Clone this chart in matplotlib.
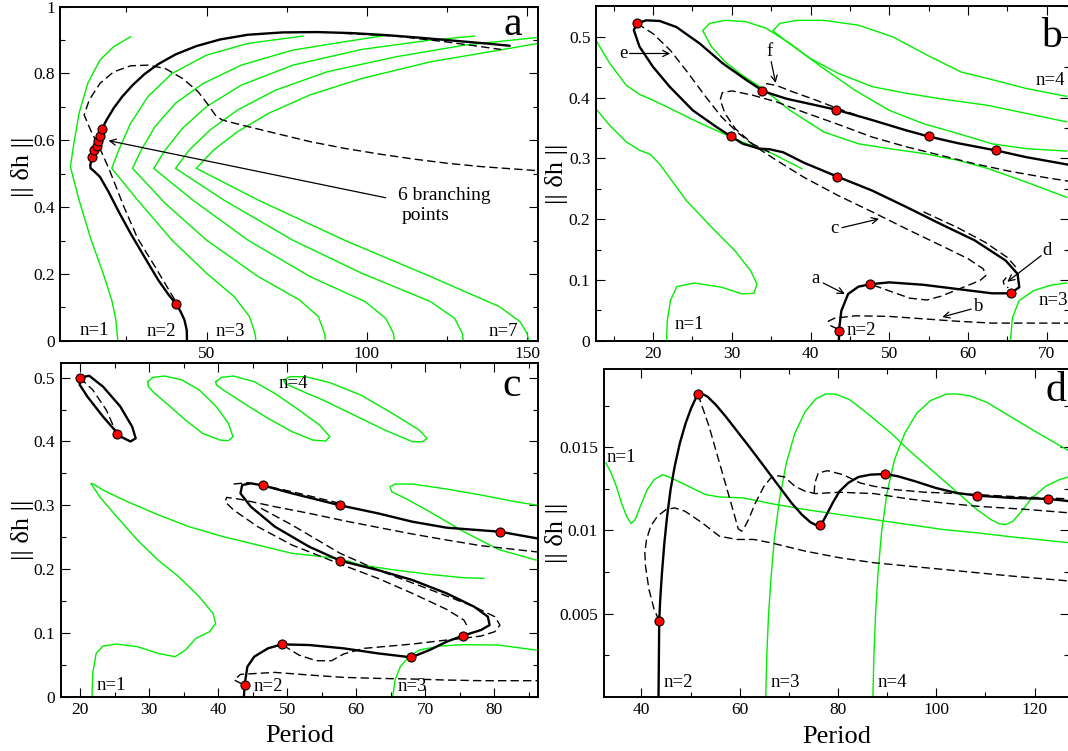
import matplotlib
matplotlib.use('Agg')
import matplotlib.pyplot as plt
from matplotlib.ticker import MultipleLocator, FixedLocator, FuncFormatter

plt.rcParams['font.family'] = ['Liberation Serif', 'DejaVu Serif']

GREEN = '#00ee00'

# ---------------- Panel a data ----------------
a_n1_x = [26.3, 21.0, 16.7, 12.9, 10.2, 8.6, 7.5, 10.2, 14.0, 17.7, 20.4, 21.7, 22.3]
a_n1_y = [0.910, 0.880, 0.840, 0.770, 0.681, 0.591, 0.521, 0.421, 0.301, 0.202, 0.122, 0.062, 0.0]
a_n3_x = [80.1, 62.9, 50.0, 39.2, 31.7, 26.3, 22.6, 20.4, 28.5, 39.2, 50.0, 58.6, 63.4, 65.1, 65.4]
a_n3_y = [0.912, 0.890, 0.855, 0.800, 0.731, 0.651, 0.571, 0.516, 0.421, 0.301, 0.202, 0.132, 0.072, 0.022, 0.0]
a_n4_x = [105.9, 93.0, 76.9, 60.8, 48.9, 40.3, 33.9, 29.6, 26.9, 37.1, 50.0, 66.1, 79.0, 84.9, 86.8, 87.1]
a_n4_y = [0.914, 0.895, 0.870, 0.825, 0.770, 0.711, 0.641, 0.571, 0.516, 0.411, 0.301, 0.192, 0.122, 0.072, 0.022, 0.0]
a_n5_x = [133.7, 119.9, 98.4, 76.9, 60.8, 50.0, 42.5, 37.1, 33.5, 45.7, 62.9, 82.3, 99.5, 105.9, 108.3, 108.6]
a_n5_y = [0.912, 0.900, 0.872, 0.825, 0.765, 0.701, 0.636, 0.571, 0.516, 0.421, 0.301, 0.192, 0.117, 0.067, 0.022, 0.0]
a_n6_x = [153.4, 130.6, 109.1, 87.6, 71.5, 59.7, 51.1, 44.6, 40.3, 55.4, 76.9, 98.4, 119.9, 127.4, 129.8, 130.1]
a_n6_y = [0.908, 0.885, 0.850, 0.805, 0.750, 0.691, 0.631, 0.571, 0.516, 0.421, 0.301, 0.202, 0.117, 0.067, 0.022, 0.0]
a_n7_x = [153.4, 141.4, 119.9, 98.4, 82.3, 69.4, 59.7, 52.2, 46.8, 66.1, 93.0, 119.9, 141.4, 147.8, 150.0, 150.5]
a_n7_y = [0.890, 0.870, 0.835, 0.785, 0.736, 0.681, 0.626, 0.571, 0.516, 0.421, 0.301, 0.192, 0.102, 0.057, 0.022, 0.0]
a_bk_x = [43.9, 43.8, 43.1, 41.9, 40.6, 38.2, 34.9, 30.6, 26.3, 22.6, 19.4, 16.7, 14.5, 13.8, 13.7,
          14.4, 15.0, 15.8, 16.2, 16.6, 17.3, 18.8, 21.0, 23.7, 26.9, 30.6, 34.9, 40.3, 46.8, 54.3,
          62.9, 73.7, 84.4, 95.2, 105.9, 116.7, 127.4, 138.2, 144.6]
a_bk_y = [0.0, 0.032, 0.062, 0.087, 0.109, 0.137, 0.182, 0.251, 0.321, 0.386, 0.446, 0.491, 0.511, 0.516, 0.526,
          0.551, 0.570, 0.584, 0.597, 0.613, 0.633, 0.661, 0.696, 0.731, 0.765, 0.798, 0.828, 0.857, 0.882, 0.902,
          0.916, 0.923, 0.924, 0.921, 0.915, 0.907, 0.898, 0.889, 0.883]
a_ds_x = [40.1, 33.9, 28.5, 24.2, 19.7, 16.7, 14.0, 11.8, 13.4, 16.7, 21.0, 26.3, 31.7, 37.1, 42.5, 47.3,
          50.5, 52.7, 54.8, 60.8, 71.5, 82.3, 93.0, 103.8, 114.5, 125.3, 136.0, 153.4]
a_ds_y = [0.122, 0.222, 0.306, 0.401, 0.511, 0.576, 0.626, 0.676, 0.721, 0.770, 0.805, 0.823, 0.825, 0.815, 0.785, 0.746,
          0.706, 0.676, 0.661, 0.646, 0.621, 0.596, 0.576, 0.559, 0.544, 0.531, 0.521, 0.509]
a_ds2_x = [93.0, 109.1, 125.3, 141.9]
a_ds2_y = [0.920, 0.912, 0.894, 0.872]
a_dot_x = [14.4, 15.0, 15.8, 16.2, 16.6, 17.3, 40.6]
a_dot_y = [0.551, 0.570, 0.584, 0.597, 0.613, 0.633, 0.109]

# ---------------- Panel b data ----------------
b_n1_x = [12.7, 14.5, 16.6, 18.3, 19.6, 20.8, 24.2, 27.4, 30.4, 32.4, 33.2, 32.8, 31.3, 28.7, 25.2, 23.0, 22.2, 21.8, 21.7]
b_n1_y = [0.382, 0.354, 0.327, 0.313, 0.307, 0.291, 0.231, 0.187, 0.148, 0.115, 0.093, 0.078, 0.077, 0.088, 0.095, 0.089, 0.066, 0.033, 0.0]
b_g2_x = [12.7, 14.5, 16.6, 18.3, 19.6, 21.7, 26.1, 31.3, 34.8, 38.9]
b_g2_y = [0.495, 0.456, 0.420, 0.405, 0.398, 0.385, 0.357, 0.327, 0.310, 0.283]
b_l1_x = [72.52, 67.39, 63.04, 58.70, 54.35, 50.0, 45.65, 41.30, 37.39, 34.35, 31.74, 29.13, 27.17, 26.30,
          27.39, 29.13, 31.30, 33.91, 37.39, 41.74, 46.09, 50.0, 54.35, 58.70, 62.61, 67.39, 72.52]
b_l1_y = [0.312, 0.316, 0.324, 0.341, 0.357, 0.379, 0.412, 0.451, 0.489, 0.514, 0.525, 0.527, 0.522, 0.510,
          0.484, 0.459, 0.437, 0.415, 0.379, 0.343, 0.324, 0.316, 0.308, 0.297, 0.283, 0.261, 0.236]
b_l2_x = [72.52, 67.39, 62.61, 59.13, 54.78, 50.43, 46.09, 41.74, 38.26, 36.09, 35.22,
          36.96, 40.0, 43.48, 47.83, 52.17, 56.52, 62.61, 67.39, 72.52]
b_l2_y = [0.402, 0.415, 0.431, 0.442, 0.470, 0.500, 0.519, 0.527, 0.527, 0.522, 0.510,
          0.492, 0.464, 0.440, 0.418, 0.407, 0.398, 0.387, 0.374, 0.360]
b_n3_x = [65.4, 65.65, 66.5, 68.3, 70.4, 72.5]
b_n3_y = [0.0, 0.038, 0.066, 0.082, 0.091, 0.095]
b_bk_x = [43.61, 43.61, 43.91, 44.78, 46.09, 47.61, 50.0, 54.35, 58.70, 63.04, 65.43, 66.52, 66.30, 64.78,
          60.87, 56.52, 52.17, 47.83, 43.39, 39.13, 36.52, 34.78, 33.48, 31.39, 29.91, 28.0, 25.04, 22.09,
          19.96, 18.26, 17.55, 17.96, 19.13, 20.83, 22.96, 25.91, 28.87, 31.83, 33.48, 33.83, 36.96, 43.26,
          47.83, 52.17, 55.0, 58.70, 63.57, 67.39, 73.0]
b_bk_y = [0.0, 0.0165, 0.049, 0.077, 0.089, 0.093, 0.096, 0.092, 0.085, 0.078, 0.078, 0.088, 0.110, 0.132,
          0.165, 0.192, 0.220, 0.247, 0.270, 0.293, 0.310, 0.315, 0.316, 0.324, 0.336, 0.352, 0.379, 0.418,
          0.451, 0.484, 0.511, 0.522, 0.527, 0.526, 0.516, 0.489, 0.456, 0.429, 0.415, 0.411, 0.398, 0.380,
          0.363, 0.346, 0.336, 0.325, 0.313, 0.302, 0.289]
b_dc_x = [17.96, 20.0, 22.17, 24.35, 26.52, 28.70, 30.87, 33.04, 35.65, 39.13, 43.48, 47.83, 52.17, 56.52,
          60.0, 61.96, 62.26, 61.52, 60.0, 58.26, 56.52, 54.78, 52.61, 50.43, 48.70, 47.61]
b_dc_y = [0.522, 0.505, 0.478, 0.442, 0.404, 0.368, 0.341, 0.319, 0.297, 0.269, 0.239, 0.212, 0.184, 0.157,
          0.135, 0.118, 0.107, 0.099, 0.091, 0.082, 0.073, 0.067, 0.070, 0.080, 0.088, 0.093]
b_d2_x = [34.78, 32.61, 30.43, 29.13, 28.52, 28.78, 30.0, 32.61, 35.65, 39.13, 43.48, 47.83, 52.17, 56.52,
          60.87, 65.22, 69.57, 73.0]
b_d2_y = [0.310, 0.324, 0.349, 0.374, 0.396, 0.408, 0.411, 0.404, 0.393, 0.376, 0.356, 0.335, 0.319, 0.305,
          0.291, 0.279, 0.269, 0.262]
b_df_x = [34.35, 35.65, 37.83, 40.43, 43.26, 46.09]
b_df_y = [0.423, 0.420, 0.409, 0.397, 0.383, 0.370]
b_dd_x = [54.35, 58.70, 62.17, 65.0, 66.09]
b_dd_y = [0.212, 0.186, 0.162, 0.137, 0.121]
b_dd2_x = [64.87, 64.48, 64.61, 65.13]
b_dd2_y = [0.104, 0.098, 0.091, 0.087]
b_db_x = [43.48, 42.52, 42.26, 43.04, 45.65, 50.0, 54.35, 58.70, 63.04, 67.39, 73.0]
b_db_y = [0.019, 0.025, 0.032, 0.037, 0.041, 0.040, 0.036, 0.032, 0.029, 0.029, 0.029]
b_dot_x = [17.96, 33.83, 43.26, 55.0, 63.57, 29.91, 43.39, 47.61, 65.43, 43.61]
b_dot_y = [0.522, 0.411, 0.380, 0.336, 0.313, 0.336, 0.270, 0.093, 0.078, 0.0165]

# ---------------- Panel c data ----------------
c_el_x = [19.95, 21.34, 23.33, 25.82, 27.56, 28.06, 27.31, 25.82, 23.33, 21.09, 19.95, 19.95]
c_el_y = [0.500, 0.503, 0.486, 0.455, 0.423, 0.405, 0.400, 0.408, 0.439, 0.470, 0.489, 0.500]
c_eld_x = [19.95, 21.84, 23.83, 25.32]
c_eld_y = [0.500, 0.481, 0.449, 0.412]
c_lA_x = [29.80, 30.55, 32.29, 34.78, 37.26, 39.75, 41.49, 42.14, 41.49, 40.25, 37.76, 35.27, 32.79, 30.80, 29.90, 29.80]
c_lA_y = [0.4937, 0.5005, 0.5026, 0.4963, 0.4807, 0.4545, 0.4284, 0.4075, 0.4013, 0.4023, 0.4127, 0.4336, 0.4572, 0.4754, 0.4859, 0.4937]
c_lB_x = [39.65, 40.50, 42.24, 45.22, 48.21, 51.69, 54.68, 56.17, 55.57, 53.68, 50.70, 47.21, 43.73, 40.75, 39.75, 39.65]
c_lB_y = [0.4937, 0.5005, 0.5026, 0.4937, 0.4754, 0.4493, 0.4258, 0.4075, 0.4007, 0.4023, 0.4154, 0.4363, 0.4598, 0.4807, 0.4885, 0.4937]
c_lC_x = [49.45, 50.45, 52.69, 56.17, 60.65, 65.62, 69.10, 70.25, 69.60, 68.11, 64.13, 59.65, 55.17, 51.19, 49.70, 49.45]
c_lC_y = [0.4963, 0.5016, 0.5016, 0.4922, 0.4728, 0.4415, 0.4180, 0.4049, 0.3997, 0.3997, 0.4180, 0.4415, 0.4650, 0.4833, 0.4911, 0.4963]
c_n1_x = [21.74, 21.84, 22.34, 23.33, 25.32, 28.31, 31.29, 33.78, 35.27, 36.77, 38.76, 39.65, 39.25, 37.26, 34.28,
          31.29, 28.31, 25.32, 22.84, 21.59, 21.94, 23.33, 26.32, 30.80, 35.77, 40.75, 45.72, 50.70, 57.66,
          60.65, 65.62, 70.60, 75.57, 78.46]
c_n1_y = [0.0, 0.0366, 0.0679, 0.0794, 0.0825, 0.0784, 0.0679, 0.0627, 0.0731, 0.0914, 0.1019, 0.1149, 0.1306, 0.1567, 0.1881,
          0.2142, 0.2456, 0.2821, 0.3135, 0.3344, 0.3333, 0.3239, 0.3083, 0.2874, 0.2665, 0.2508, 0.2377, 0.2247, 0.2163,
          0.2064, 0.1985, 0.1917, 0.1865, 0.1855]
c_n3_x = [65.27, 65.62, 66.37, 67.61, 69.10, 72.09, 75.57, 80.55, 86.02]
c_n3_y = [0.0, 0.0261, 0.047, 0.0627, 0.0731, 0.0794, 0.0815, 0.081, 0.0731]
c_g4_x = [86.02, 83.03, 78.06, 73.08, 68.11, 65.62, 64.88, 65.12, 67.11, 70.60, 75.57, 80.55, 86.02]
c_g4_y = [0.3004, 0.3056, 0.3161, 0.3255, 0.3333, 0.3333, 0.3292, 0.3213, 0.3109, 0.2900, 0.2586, 0.2309, 0.2142]
c_bk_x = [43.73, 43.83, 44.23, 45.22, 47.21, 49.20, 53.18, 58.16, 63.13, 67.96, 70.60, 73.08, 75.42, 78.06, 79.30,
          79.05, 77.06, 73.08, 68.11, 63.13, 57.66, 53.18, 48.21, 44.73, 43.23, 43.48, 44.73, 46.47, 50.70, 57.66,
          63.13, 68.11, 73.08, 80.80, 86.5]
c_bk_y = [0.0, 0.0183, 0.047, 0.0627, 0.0758, 0.082, 0.081, 0.0758, 0.0679, 0.0617, 0.0731, 0.0862, 0.0956, 0.1045, 0.1123,
          0.1254, 0.1411, 0.162, 0.1829, 0.1985, 0.2132, 0.2351, 0.2665, 0.2978, 0.3187, 0.3318, 0.3344, 0.3312, 0.3187, 0.2999,
          0.2874, 0.2743, 0.2649, 0.2586, 0.2475]
c_da_x = [86.5, 78.06, 73.08, 68.11, 63.13, 58.16, 53.18, 48.21, 43.23, 41.24, 41.0, 42.24, 45.72, 50.70, 57.66,
          63.13, 68.11, 73.08, 75.57, 75.97]
c_da_y = [0.2265, 0.2367, 0.2456, 0.255, 0.2654, 0.2759, 0.2874, 0.2978, 0.3093, 0.3124, 0.3056, 0.2926, 0.2665, 0.2377, 0.2079,
          0.1855, 0.162, 0.1369, 0.1202, 0.1123]
c_db_x = [42.24, 44.23, 46.47, 50.70, 57.66]
c_db_y = [0.3333, 0.3354, 0.3312, 0.3213, 0.3030]
c_dc_x = [46.22, 50.70, 57.66, 63.13, 70.60, 77.06, 80.05, 80.80, 80.05, 78.06, 75.42, 73.08, 68.11, 61.14,
          58.16, 56.42, 54.18, 51.69, 49.20]
c_dc_y = [0.2952, 0.2691, 0.2247, 0.1985, 0.1682, 0.1411, 0.1254, 0.1123, 0.1019, 0.0951, 0.0914, 0.0888, 0.0825, 0.0758,
          0.0669, 0.0564, 0.0564, 0.0653, 0.082]
c_dl_x = [43.48, 42.34, 43.23, 48.21, 53.18, 58.16, 63.13, 68.11, 73.08, 78.06, 86.5]
c_dl_y = [0.0199, 0.0261, 0.035, 0.0381, 0.034, 0.0303, 0.0287, 0.0277, 0.0261, 0.0251, 0.0251]
c_dot_x = [19.95, 25.32, 46.47, 57.66, 80.80, 57.66, 75.42, 49.20, 67.96, 43.83]
c_dot_y = [0.500, 0.412, 0.3312, 0.2999, 0.2586, 0.2132, 0.0956, 0.082, 0.0617, 0.0183]

# ---------------- Panel d data ----------------
d_n1_x = [32.80, 33.85, 34.90, 35.95, 36.99, 37.90, 38.74, 39.79, 41.19, 42.59, 44.33, 46.08, 49.57, 53.07,
          55.86, 60.75, 66.34, 73.33, 80.32, 87.31, 94.30, 101.29, 108.27, 115.26, 127.5]
d_n1_y = [0.01406, 0.01346, 0.01266, 0.01166, 0.01086, 0.01042, 0.01066, 0.01146, 0.01246, 0.01306, 0.01336, 0.01316,
          0.01266, 0.01216, 0.01202, 0.01196, 0.01162, 0.01126, 0.01096, 0.01066, 0.01036, 0.01006, 0.00986, 0.00962, 0.00925]
d_n3_x = [65.30, 65.51, 65.86, 66.35, 67.04, 68.09, 69.49, 71.24, 73.33, 75.43, 77.53, 79.62, 82.42, 85.91,
          90.80, 94.30, 97.79, 101.29, 104.78, 108.27, 111.07, 112.82, 114.22, 115.61, 117.36, 119.46, 122.25,
          125.05, 127.5]
d_n3_y = [0.0, 0.00246, 0.00486, 0.00706, 0.00946, 0.01186, 0.01406, 0.01586, 0.01716, 0.0179, 0.01822, 0.0182,
          0.01786, 0.01706, 0.01586, 0.01486, 0.01396, 0.01306, 0.01216, 0.01126, 0.01066, 0.0104, 0.01036, 0.01056,
          0.01116, 0.01196, 0.01266, 0.01306, 0.01328]
d_n4_x = [87.10, 87.31, 87.66, 88.15, 88.85, 89.97, 91.50, 93.60, 96.04, 98.84, 101.99, 104.08, 106.88, 110.37,
          115.26, 120.15, 127.5]
d_n4_y = [0.0, 0.00246, 0.00506, 0.00746, 0.00986, 0.01226, 0.01426, 0.01586, 0.01706, 0.01782, 0.0182, 0.01822,
          0.0181, 0.0177, 0.01682, 0.01596, 0.0147]
d_bk_x = [43.49, 43.63, 43.84, 44.19, 44.68, 45.24, 45.94, 46.78, 47.83, 49.01, 50.13, 50.97, 51.53, 52.37, 53.42,
          55.16, 57.26, 59.36, 62.15, 64.95, 67.74, 70.54, 72.63, 74.38, 75.43, 76.27, 76.97, 77.88, 78.92, 80.32,
          82.07, 84.16, 86.61, 89.62, 92.20, 95.70, 99.89, 104.08, 108.27, 115.26, 122.81, 127.5]
d_bk_y = [0.0, 0.00456, 0.00586, 0.00746, 0.00926, 0.01086, 0.01246, 0.01386, 0.01526, 0.01646, 0.01736, 0.0179,
          0.0182, 0.01822, 0.01806, 0.01756, 0.01682, 0.01602, 0.01496, 0.01386, 0.01276, 0.01166, 0.01096, 0.0105,
          0.01034, 0.01034, 0.01056, 0.01106, 0.01166, 0.01236, 0.01286, 0.01322, 0.01336, 0.0134, 0.01326, 0.01296,
          0.01256, 0.01226, 0.0121, 0.01196, 0.0119, 0.01175]
d_d1_x = [51.53, 52.37, 53.77, 55.51, 57.26, 58.80, 59.71, 60.41, 60.75, 61.80, 63.20, 64.95, 66.34, 67.60,
          69.14, 71.24, 73.33, 75.43, 80.32, 87.31, 94.30, 101.29, 108.27, 118.76, 127.5]
d_d1_y = [0.0182, 0.01746, 0.01626, 0.01446, 0.01266, 0.01106, 0.0101, 0.00996, 0.01006, 0.01066, 0.01166, 0.01266,
          0.01316, 0.0133, 0.01322, 0.01266, 0.01236, 0.01222, 0.0123, 0.01222, 0.0119, 0.01166, 0.01146, 0.01126, 0.01105]
d_d2_x = [75.15, 75.29, 75.99, 77.88, 81.02, 84.51, 87.31, 91.50, 97.79, 104.78, 111.77, 118.76, 127.5]
d_d2_y = [0.01222, 0.01286, 0.01346, 0.0136, 0.01336, 0.01286, 0.01266, 0.01246, 0.0123, 0.01222, 0.0121, 0.012, 0.0119]
d_d3_x = [43.63, 42.59, 41.54, 40.84, 40.70, 41.05, 41.89, 43.28, 45.03, 46.78, 48.87, 52.37, 55.86, 59.36,
          62.85, 66.34, 73.33, 80.32, 87.31, 94.30, 101.29, 108.27, 115.26, 127.5]
d_d3_y = [0.00456, 0.00526, 0.00646, 0.00786, 0.00866, 0.00946, 0.01026, 0.01086, 0.01126, 0.01136, 0.01116, 0.01046,
          0.00966, 0.00946, 0.00946, 0.00926, 0.00876, 0.00836, 0.00806, 0.00786, 0.00766, 0.00746, 0.00726, 0.00695]
d_dot_x = [43.63, 51.53, 76.27, 89.62, 108.27, 122.81]
d_dot_y = [0.00456, 0.0182, 0.01034, 0.0134, 0.0121, 0.0119]

# ---------------- styling helpers ----------------
LW_BLACK = 1.7
LW_GREEN = 1.0
LW_DASH = 1.0
DASH = (0, (6, 3))
TICK_FS = 12.5
LAB_FS = 19
N_FS = 13.5
LET_FS = 30


def fmt(v, p):
    return f'{v:g}'


def style_axes(ax):
    for s in ax.spines.values():
        s.set_linewidth(1.4)
    ax.tick_params(which='both', direction='in', top=True, right=True, labelsize=TICK_FS, width=0.8)
    ax.tick_params(which='major', length=6.5, pad=4)
    ax.tick_params(which='minor', length=3.6)
    ax.yaxis.set_major_formatter(FuncFormatter(fmt))
    ax.xaxis.set_major_formatter(FuncFormatter(fmt))


def green(ax, x, y):
    ax.plot(x, y, color=GREEN, lw=LW_GREEN, solid_joinstyle='round', zorder=2)


def black(ax, x, y):
    ax.plot(x, y, color='black', lw=LW_BLACK, solid_joinstyle='round', solid_capstyle='round', zorder=3)


def dashed(ax, x, y):
    ax.plot(x, y, color='black', lw=LW_DASH, linestyle=DASH, zorder=3)


def dots(ax, x, y):
    ax.plot(x, y, 'o', ms=6.5, mfc='red', mec='black', mew=0.8, zorder=5)


def arrow(ax, x0, y0, x1, y1):
    ax.annotate('', xy=(x1, y1), xytext=(x0, y0),
                arrowprops=dict(arrowstyle='->', lw=0.9, color='black', shrinkA=0, shrinkB=0,
                                mutation_scale=11), zorder=6)


fig = plt.figure(figsize=(10.68, 7.51), dpi=100)

# ---------------- Panel a ----------------
ax = fig.add_axes([0.0566, 0.5463, 0.4471, 0.4448])
for gx, gy in [(a_n1_x, a_n1_y), (a_n3_x, a_n3_y), (a_n4_x, a_n4_y), (a_n5_x, a_n5_y),
               (a_n6_x, a_n6_y), (a_n7_x, a_n7_y)]:
    green(ax, gx, gy)
dashed(ax, a_ds_x, a_ds_y)
dashed(ax, a_ds2_x, a_ds2_y)
black(ax, a_bk_x, a_bk_y)
dots(ax, a_dot_x, a_dot_y)
arrow(ax, 105.9, 0.428, 19.4, 0.599)
ax.text(109.7, 0.436, '6 branching', fontsize=14, va='center', ha='left')
ax.text(111.0, 0.376, 'points', fontsize=14, va='center', ha='left')
ax.text(15.1, 0.032, 'n=1', fontsize=N_FS, ha='center', va='center')
ax.text(36.0, 0.029, 'n=2', fontsize=N_FS, ha='center', va='center')
ax.text(57.5, 0.029, 'n=3', fontsize=N_FS, ha='center', va='center')
ax.text(142.5, 0.029, 'n=7', fontsize=N_FS, ha='center', va='center')
ax.text(145.7, 0.945, 'a', fontsize=LET_FS, ha='center', va='center')
ax.set_xlim(4.4, 153.4)
ax.set_ylim(0, 1)
ax.xaxis.set_major_locator(MultipleLocator(50))
ax.xaxis.set_minor_locator(MultipleLocator(25))
ax.yaxis.set_major_locator(MultipleLocator(0.2))
ax.yaxis.set_minor_locator(MultipleLocator(0.1))
style_axes(ax)
ax.set_ylabel('|| δh ||', fontsize=LAB_FS)
ax.yaxis.set_label_coords(-0.055, 0.52)

# ---------------- Panel b ----------------
ax = fig.add_axes([0.5581, 0.5463, 0.4433, 0.4457])
for gx, gy in [(b_n1_x, b_n1_y), (b_g2_x, b_g2_y), (b_l1_x, b_l1_y), (b_l2_x, b_l2_y), (b_n3_x, b_n3_y)]:
    green(ax, gx, gy)
for dx, dy in [(b_dc_x, b_dc_y), (b_d2_x, b_d2_y), (b_df_x, b_df_y), (b_dd_x, b_dd_y),
               (b_dd2_x, b_dd2_y), (b_db_x, b_db_y)]:
    dashed(ax, dx, dy)
black(ax, b_bk_x, b_bk_y)
dots(ax, b_dot_x, b_dot_y)
ax.text(16.17, 0.4725, 'e', fontsize=N_FS, ha='center', va='center')
arrow(ax, 17.0, 0.4725, 22.17, 0.4725)
ax.text(34.78, 0.4765, 'f', fontsize=N_FS, ha='center', va='center')
arrow(ax, 35.0, 0.459, 35.57, 0.424)
ax.text(43.04, 0.184, 'c', fontsize=N_FS, ha='center', va='center')
arrow(ax, 44.0, 0.186, 48.70, 0.2005)
ax.text(70.0, 0.148, 'd', fontsize=N_FS, ha='center', va='center')
arrow(ax, 69.3, 0.140, 65.0, 0.097)
ax.text(40.65, 0.102, 'a', fontsize=N_FS, ha='center', va='center')
arrow(ax, 41.6, 0.095, 44.35, 0.077)
ax.text(61.4, 0.056, 'b', fontsize=N_FS, ha='center', va='center')
arrow(ax, 60.4, 0.052, 56.74, 0.039)
ax.text(24.6, 0.0275, 'n=1', fontsize=N_FS, ha='center', va='center')
ax.text(44.6, 0.0165, 'n=2', fontsize=N_FS, ha='left', va='center')
ax.text(69.0, 0.066, 'n=3', fontsize=N_FS, ha='left', va='center')
ax.text(68.6, 0.4286, 'n=4', fontsize=N_FS, ha='left', va='center')
ax.text(70.6, 0.5, 'b', fontsize=LET_FS, ha='center', va='center')
ax.set_xlim(12.75, 72.9)
ax.set_ylim(0, 0.5506)
ax.xaxis.set_major_locator(MultipleLocator(10))
ax.xaxis.set_minor_locator(MultipleLocator(5))
ax.yaxis.set_major_locator(MultipleLocator(0.1))
ax.yaxis.set_minor_locator(MultipleLocator(0.05))
style_axes(ax)
ax.set_ylabel('|| δh ||', fontsize=LAB_FS)
ax.yaxis.set_label_coords(-0.06, 0.5)

# ---------------- Panel c ----------------
ax = fig.add_axes([0.0568, 0.0723, 0.4469, 0.4439])
for gx, gy in [(c_lA_x, c_lA_y), (c_lB_x, c_lB_y), (c_lC_x, c_lC_y), (c_n1_x, c_n1_y),
               (c_n3_x, c_n3_y), (c_g4_x, c_g4_y)]:
    green(ax, gx, gy)
for dx, dy in [(c_eld_x, c_eld_y), (c_da_x, c_da_y), (c_db_x, c_db_y), (c_dc_x, c_dc_y), (c_dl_x, c_dl_y)]:
    dashed(ax, dx, dy)
black(ax, c_el_x, c_el_y)
black(ax, c_bk_x, c_bk_y)
dots(ax, c_dot_x, c_dot_y)
ax.text(50.95, 0.491, 'n=4', fontsize=N_FS, ha='center', va='center')
ax.text(24.6, 0.0183, 'n=1', fontsize=N_FS, ha='center', va='center')
ax.text(45.1, 0.0157, 'n=2', fontsize=N_FS, ha='left', va='center')
ax.text(66.0, 0.0157, 'n=3', fontsize=N_FS, ha='left', va='center')
ax.text(82.5, 0.488, 'c', fontsize=LET_FS, ha='center', va='center')
ax.set_xlim(17.2, 86.3)
ax.set_ylim(0, 0.5225)
ax.xaxis.set_major_locator(MultipleLocator(10))
ax.xaxis.set_minor_locator(MultipleLocator(5))
ax.yaxis.set_major_locator(MultipleLocator(0.1))
ax.yaxis.set_minor_locator(MultipleLocator(0.05))
style_axes(ax)
ax.set_ylabel('|| δh ||', fontsize=LAB_FS)
ax.yaxis.set_label_coords(-0.056, 0.5)
ax.set_xlabel('Period', fontsize=LAB_FS)
ax.xaxis.set_label_coords(0.5, -0.085)

# ---------------- Panel d ----------------
ax = fig.add_axes([0.5651, 0.0723, 0.4363, 0.4360])
for gx, gy in [(d_n1_x, d_n1_y), (d_n3_x, d_n3_y), (d_n4_x, d_n4_y)]:
    green(ax, gx, gy)
for dx, dy in [(d_d1_x, d_d1_y), (d_d2_x, d_d2_y), (d_d3_x, d_d3_y)]:
    dashed(ax, dx, dy)
black(ax, d_bk_x, d_bk_y)
dots(ax, d_dot_x, d_dot_y)
ax.text(32.9, 0.01442, 'n=1', fontsize=N_FS, ha='left', va='center')
ax.text(44.5, 0.00086, 'n=2', fontsize=N_FS, ha='left', va='center')
ax.text(66.3, 0.00086, 'n=3', fontsize=N_FS, ha='left', va='center')
ax.text(88.1, 0.00086, 'n=4', fontsize=N_FS, ha='left', va='center')
ax.text(124.3, 0.0184, 'd', fontsize=LET_FS, ha='center', va='center')
ax.set_xlim(32.3, 127.1)
ax.set_ylim(0, 0.0197)
ax.xaxis.set_major_locator(MultipleLocator(20))
ax.xaxis.set_minor_locator(MultipleLocator(10))
ax.yaxis.set_major_locator(FixedLocator([0.005, 0.01, 0.015]))
ax.yaxis.set_minor_locator(FixedLocator([0.0025, 0.0075, 0.0125, 0.0175]))
style_axes(ax)
ax.set_ylabel('|| δh ||', fontsize=LAB_FS)
ax.yaxis.set_label_coords(-0.076, 0.5)
ax.set_xlabel('Period', fontsize=LAB_FS)
ax.xaxis.set_label_coords(0.5, -0.088)

fig.savefig('out.png', dpi=100)
